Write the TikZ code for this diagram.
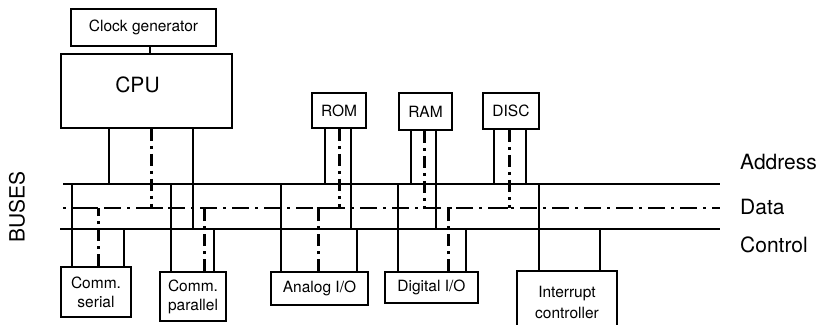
\documentclass[tikz,border=0pt]{standalone}
\usepackage{fontspec}
\setmainfont{TeX Gyre Heros}
\usetikzlibrary{positioning}

% a solid tap from a unit to one bus line, and a dash-dot tap to the data line
\newcommand{\tap}[3]{\draw[wire] ([xshift=#2]#1) coordinate (t) -- (t |- #3);}
\newcommand{\dtap}[4]{%
  \draw[dwire] ([xshift=#2]#1) coordinate (t) -- (t |- #3);
  \draw[foot] ([xshift=-1.3pt]t |- #3) -- ++(#4,0);}

\begin{document}
\begin{tikzpicture}[x=1pt,y=-1pt, every node/.style={inner sep=0pt}]
  \tikzset{
    unit/.style={draw, line width=1.6pt, font=\fontsize{15.5}{19}\selectfont, align=center},
    big/.style={font=\fontsize{21}{24}\selectfont},
    wire/.style={line width=2pt},
    bus/.style={line width=2pt},
    databus/.style={line width=2.6pt, dash pattern=on 3pt off 6pt on 17pt off 6pt},
    dwire/.style={line width=2.6pt, dash pattern=on 12pt off 5pt on 3pt off 5pt},
    foot/.style={line width=2.6pt}
  }

  \path[use as bounding box] (0,0) rectangle (821,324);
  \clip (0,0) rectangle (821,324);

  % bus lines
  \coordinate (addrL) at (63,184);  \coordinate (addrR) at (720,184);
  \coordinate (dataL) at (63,208);  \coordinate (dataR) at (720,208);
  \coordinate (ctrlL) at (60,229);  \coordinate (ctrlR) at (720,229);
  \draw[bus] (addrL) -- (addrR);
  \draw[databus] (dataL) -- (dataR);
  \draw[bus] (ctrlL) -- (ctrlR);

  \node[big, anchor=west] (addrlab) at (740,162) {Address};
  \node[big, anchor=west] (datalab) at (740,207) {Data};
  \node[big, anchor=west] (ctrllab) at (740,245) {Control};
  \node[big, rotate=90] (buslab) at (17,207) {BUSES};

  % units above the buses
  \node[unit, minimum width=145, minimum height=37] (clock) at (143.5,27.5) {Clock generator};
  \node[draw, line width=1.6pt, minimum width=171, minimum height=74] (cpu) at (146.5,91) {};
  \node[big] (cputext) at ([xshift=-9pt,yshift=6pt]cpu.center) {CPU};
  \draw[wire] ([xshift=6.5pt]clock.south) -- ([xshift=6.5pt]clock.south |- cpu.north);

  \node[unit, minimum width=54, minimum height=35] (rom) at (339,110.5) {ROM};
  \node[unit, minimum width=53, minimum height=37] (ram) at (425.5,111.5) {RAM};
  \node[unit, minimum width=56, minimum height=36] (disc) at (511,111) {DISC};

  % units below the buses
  \node[unit, minimum width=70, minimum height=50] (serial) at (96,292) {Comm.\\serial};
  \node[unit, minimum width=66, minimum height=49] (parallel) at (193,296.5) {Comm.\\parallel};
  \node[unit, minimum width=97, minimum height=33] (analog) at (319.5,288.5) {Analog I/O};
  \node[unit, minimum width=93, minimum height=31] (digital) at (431.5,287.5) {Digital I/O};
  \node[unit, font=\fontsize{15.5}{21}\selectfont, minimum width=100, minimum height=62] (intr) at (567,302) {Interrupt\\controller};

  % taps
  \tap{cpu.south west}{49}{addrL}
  \dtap{cpu.south west}{91}{dataL}{-4}
  \dtap{cpu.south west}{91}{dataL}{13}
  \tap{cpu.south west}{133}{ctrlL}

  \tap{rom.south west}{14}{addrL}
  \dtap{rom.south west}{28}{dataL}{-20}
  \tap{rom.south west}{40}{ctrlL}

  \tap{ram.south west}{13}{addrL}
  \dtap{ram.south west}{26}{dataL}{8}
  \tap{ram.south west}{38}{ctrlL}

  \tap{disc.south west}{12}{addrL}
  \dtap{disc.south west}{27}{dataL}{-12}
  \tap{disc.south west}{44}{addrL}

  \tap{serial.north west}{12}{addrL}
  \dtap{serial.north west}{38}{dataL}{-10}
  \tap{serial.north west}{64}{ctrlL}

  \tap{parallel.north west}{12}{addrL}
  \dtap{parallel.north west}{45}{dataL}{6}
  \tap{parallel.north west}{55}{ctrlL}

  \tap{analog.north west}{11}{addrL}
  \dtap{analog.north west}{48}{dataL}{4}
  \tap{analog.north west}{87}{ctrlL}

  \tap{digital.north west}{14}{addrL}
  \dtap{digital.north west}{64}{dataL}{5}
  \tap{digital.north west}{82}{ctrlL}

  \tap{intr.north west}{23}{addrL}
  \tap{intr.north west}{84}{ctrlL}

\end{tikzpicture}
\end{document}
